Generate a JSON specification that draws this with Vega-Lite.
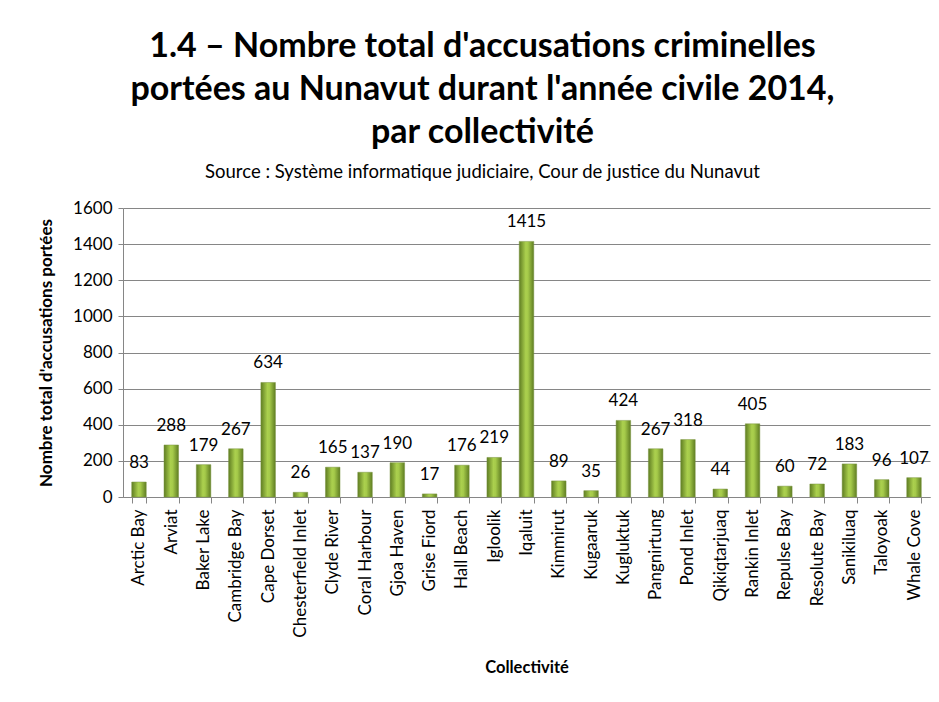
{
  "$schema": "https://vega.github.io/schema/vega-lite/v6.json",
  "autosize": "none",
  "width": 807,
  "height": 289,
  "padding": {"left": 123, "top": 208, "right": 9, "bottom": 205},
  "background": "white",
  "title": {
    "text": ["1.4 – Nombre total d'accusations criminelles", "portées au Nunavut durant l'année civile 2014,", "par collectivité"],
    "subtitle": "Source : Système informatique judiciaire, Cour de justice du Nunavut",
    "font": "Lato",
    "fontSize": 34,
    "fontWeight": "bold",
    "lineHeight": 43,
    "color": "black",
    "subtitleFont": "Lato",
    "subtitleFontSize": 18.5,
    "subtitleColor": "black",
    "subtitlePadding": 13,
    "anchor": "middle",
    "dx": -44,
    "offset": 18
  },
  "data": {
    "values": [
      {"c": "Arctic Bay", "v": 83},
      {"c": "Arviat", "v": 288},
      {"c": "Baker Lake", "v": 179},
      {"c": "Cambridge Bay", "v": 267},
      {"c": "Cape Dorset", "v": 634},
      {"c": "Chesterfield Inlet", "v": 26},
      {"c": "Clyde River", "v": 165},
      {"c": "Coral Harbour", "v": 137},
      {"c": "Gjoa Haven", "v": 190},
      {"c": "Grise Fiord", "v": 17},
      {"c": "Hall Beach", "v": 176},
      {"c": "Igloolik", "v": 219},
      {"c": "Iqaluit", "v": 1415},
      {"c": "Kimmirut", "v": 89},
      {"c": "Kugaaruk", "v": 35},
      {"c": "Kugluktuk", "v": 424},
      {"c": "Pangnirtung", "v": 267},
      {"c": "Pond Inlet", "v": 318},
      {"c": "Qikiqtarjuaq", "v": 44},
      {"c": "Rankin Inlet", "v": 405},
      {"c": "Repulse Bay", "v": 60},
      {"c": "Resolute Bay", "v": 72},
      {"c": "Sanikiluaq", "v": 183},
      {"c": "Taloyoak", "v": 96},
      {"c": "Whale Cove", "v": 107}
    ]
  },
  "encoding": {
    "x": {
      "field": "c",
      "type": "nominal",
      "sort": null,
      "scale": {"paddingInner": 0.55, "paddingOuter": 0.27},
      "axis": {
        "title": "Collectivité",
        "titleFont": "Lato",
        "titleFontSize": 16.5,
        "titleFontWeight": "bold",
        "titleColor": "black",
        "titlePadding": 22,
        "labelAngle": -90,
        "labelFont": "Lato",
        "labelFontSize": 17,
        "labelColor": "black",
        "labelPadding": 6,
        "tickBand": "extent",
        "tickSize": 6,
        "tickColor": "#868686",
        "domainColor": "#868686"
      }
    },
    "y": {
      "field": "v",
      "type": "quantitative",
      "scale": {"domain": [0, 1600]},
      "axis": {
        "title": "Nombre total d'accusations portées",
        "titleFont": "Lato",
        "titleFontSize": 17,
        "titleFontWeight": "bold",
        "titleColor": "black",
        "titlePadding": 17,
        "values": [0, 200, 400, 600, 800, 1000, 1200, 1400, 1600],
        "format": "d",
        "labelFont": "Lato",
        "labelFontSize": 17,
        "labelColor": "black",
        "labelPadding": 6,
        "tickSize": 5,
        "tickColor": "#868686",
        "domainColor": "#868686",
        "gridColor": "#868686",
        "gridWidth": 1,
        "grid": true
      }
    }
  },
  "layer": [
    {
      "mark": {
        "type": "bar",
        "stroke": "#7a9440",
        "strokeWidth": 0.5,
        "color": {
          "gradient": "linear",
          "x1": 0, "x2": 1, "y1": 0, "y2": 0,
          "stops": [
            {"offset": 0, "color": "#5f7d22"},
            {"offset": 0.45, "color": "#abd04e"},
            {"offset": 0.6, "color": "#a5ca4a"},
            {"offset": 1, "color": "#5f7d22"}
          ]
        }
      }
    },
    {
      "mark": {"type": "text", "baseline": "bottom", "dy": -10, "font": "Lato", "fontSize": 17, "color": "black"},
      "encoding": {"text": {"field": "v", "type": "quantitative"}}
    }
  ],
  "config": {"view": {"stroke": null}}
}
